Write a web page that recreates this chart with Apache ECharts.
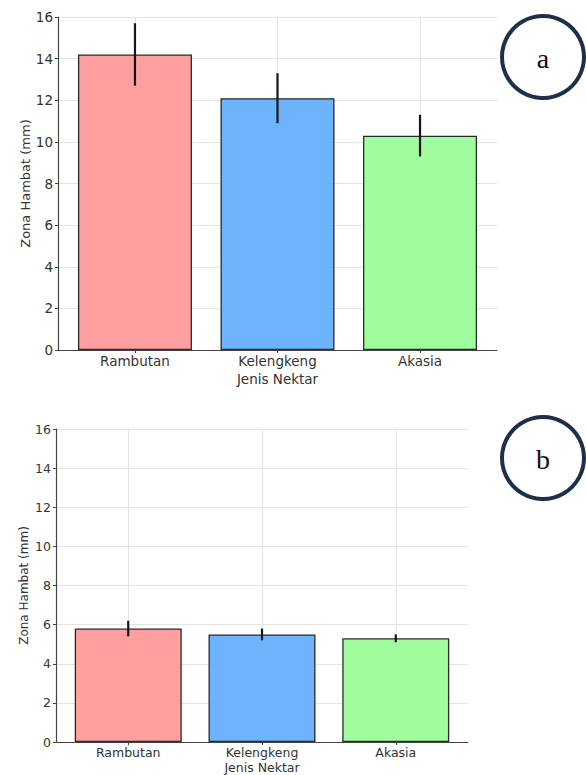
<!DOCTYPE html>
<html>
<head>
<meta charset="utf-8">
<script src="https://cdn.jsdelivr.net/npm/echarts@6/dist/echarts.min.js"></script>
<style>
  html, body { margin: 0; padding: 0; background: #fff; }
  #chart { width: 586px; height: 775px; }
</style>
</head>
<body>
<div id="chart"></div>
<script>
// data
var categories = ['Rambutan', 'Kelengkeng', 'Akasia'];
var barColors = ['#ff9797', '#62aefc', '#97fd97'];
var yTicks = [0, 2, 4, 6, 8, 10, 12, 14, 16];

// panel a
var meanA = [14.2, 12.1, 10.3];
var errA = [1.5, 1.2, 1.0];
// panel b
var meanB = [5.8, 5.5, 5.3];
var errB = [0.4, 0.3, 0.2];

var catIdx = [0, 1, 2];
var fontFam = '"DejaVu Sans", sans-serif';

function barData(means) {
  return means.map(function (v, i) {
    return { value: [catIdx[i], v], itemStyle: { color: barColors[i] } };
  });
}
function errData(means, errs) {
  return means.map(function (v, i) { return [catIdx[i], v - errs[i], v + errs[i]]; });
}
function renderErr(params, api) {
  var p1 = api.coord([api.value(0), api.value(1)]);
  var p2 = api.coord([api.value(0), api.value(2)]);
  return {
    type: 'line',
    shape: { x1: p1[0], y1: p1[1], x2: p2[0], y2: p2[1] },
    style: { stroke: '#151515', lineWidth: 2.2 }
  };
}

function xAxisCfg(gridIndex, fs, gap) {
  return {
    type: 'value', gridIndex: gridIndex, min: -0.54, max: 2.54,
    name: 'Jenis Nektar', nameLocation: 'middle', nameGap: gap,
    nameTextStyle: { color: '#333', fontSize: fs, fontFamily: fontFam },
    axisLine: { show: true, onZero: false, lineStyle: { color: '#444', width: 1.2 } },
    axisTick: { show: true, customValues: catIdx, length: 3, lineStyle: { color: '#444' } },
    axisLabel: {
      customValues: catIdx, color: '#333', fontSize: fs, fontFamily: fontFam, margin: 4,
      formatter: function (v) { return categories[Math.round(v)]; }
    },
    splitLine: { show: true, lineStyle: { color: '#e4e4e4', width: 1 } }
  };
}
function yAxisCfg(gridIndex, fs, nfs, gap) {
  return {
    type: 'value', gridIndex: gridIndex, min: 0, max: 16, interval: 2,
    name: 'Zona Hambat (mm)', nameLocation: 'middle', nameGap: gap, nameRotate: 90,
    nameMoveOverlap: false,
    nameTextStyle: { color: '#333', fontSize: nfs, fontFamily: fontFam },
    axisLine: { show: true, onZero: false, lineStyle: { color: '#444', width: 1.2 } },
    axisTick: { show: true, length: 3, lineStyle: { color: '#444' } },
    axisLabel: {
      color: '#333', fontSize: fs, fontFamily: fontFam, margin: 5,
      formatter: function (v) { return yTicks.indexOf(v) >= 0 ? String(v) : ''; }
    },
    splitLine: { show: true, lineStyle: { color: '#e4e4e4', width: 1 } }
  };
}

var chart = echarts.init(document.getElementById('chart'), null, { renderer: 'svg' });

var option = {
  backgroundColor: '#fff',
  animation: false,
  grid: [
    { left: 58, right: 89, top: 17, height: 333 },
    { left: 56, right: 118, top: 429, height: 313 }
  ],
  xAxis: [xAxisCfg(0, 13.5, 22), xAxisCfg(1, 12.5, 19)],
  yAxis: [yAxisCfg(0, 13.5, 13, 26), yAxisCfg(1, 12.5, 12, 26)],
  series: [
    {
      type: 'bar', xAxisIndex: 0, yAxisIndex: 0, barWidth: 114,
      itemStyle: { borderColor: '#1a1a1a', borderWidth: 1.3, opacity: 0.92 },
      data: barData(meanA)
    },
    {
      type: 'custom', xAxisIndex: 0, yAxisIndex: 0, z: 5,
      renderItem: renderErr, encode: { x: 0, y: [1, 2] },
      data: errData(meanA, errA)
    },
    {
      type: 'bar', xAxisIndex: 1, yAxisIndex: 1, barWidth: 107,
      itemStyle: { borderColor: '#1a1a1a', borderWidth: 1.3, opacity: 0.92 },
      data: barData(meanB)
    },
    {
      type: 'custom', xAxisIndex: 1, yAxisIndex: 1, z: 5,
      renderItem: renderErr, encode: { x: 0, y: [1, 2] },
      data: errData(meanB, errB)
    }
  ],
  graphic: [
    { type: 'circle', shape: { cx: 543, cy: 57, r: 41 },
      style: { fill: '#fff', stroke: '#1d3049', lineWidth: 4 } },
    { type: 'text', x: 543, y: 58,
      style: { text: 'a', fill: '#111', font: '28px "Liberation Serif", "DejaVu Serif", serif',
               textAlign: 'center', textVerticalAlign: 'middle' } },
    { type: 'circle', shape: { cx: 543, cy: 458, r: 41 },
      style: { fill: '#fff', stroke: '#1d3049', lineWidth: 4 } },
    { type: 'text', x: 543, y: 459,
      style: { text: 'b', fill: '#111', font: '28px "Liberation Serif", "DejaVu Serif", serif',
               textAlign: 'center', textVerticalAlign: 'middle' } }
  ]
};

chart.setOption(option);
</script>
</body>
</html>
